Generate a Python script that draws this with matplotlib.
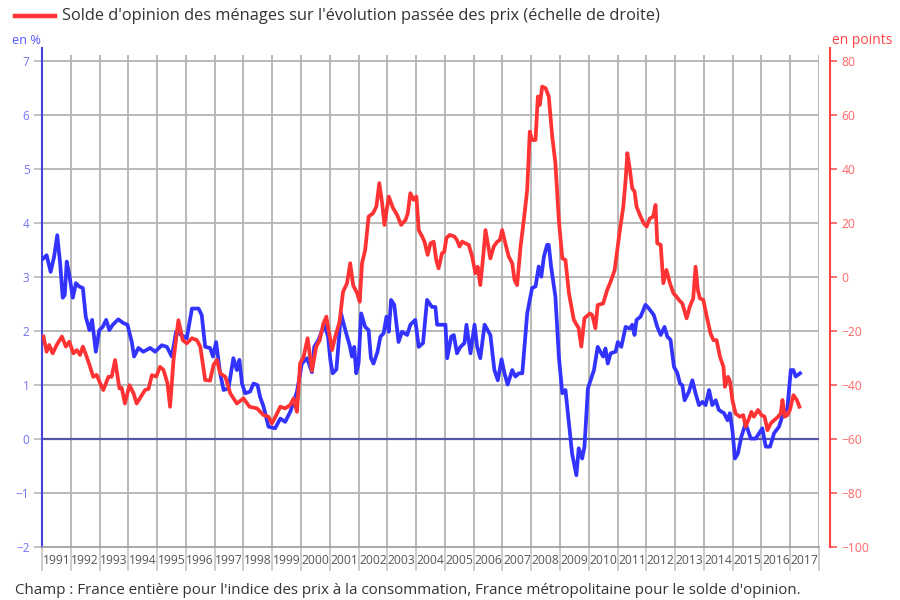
import matplotlib
matplotlib.use("Agg")
import matplotlib.pyplot as plt
from matplotlib.lines import Line2D

plt.rcParams["font.family"] = ["Open Sans", "DejaVu Sans"]

# Inflation (left axis, en %), decimal years
cpi_dates = [
    1991.05, 1991.16, 1991.30, 1991.42, 1991.53, 1991.63, 1991.72, 1991.79, 1991.86, 1991.95,
    1992.07, 1992.18, 1992.29, 1992.42, 1992.52, 1992.65, 1992.74, 1992.87, 1992.99,
    1993.11, 1993.23, 1993.34, 1993.46, 1993.65, 1993.83, 1993.97,
    1994.12, 1994.20, 1994.35, 1994.52, 1994.76, 1994.93,
    1995.16, 1995.34, 1995.51, 1995.66, 1995.85,
    1996.03, 1996.21, 1996.44, 1996.55, 1996.67, 1996.84, 1996.94,
    1997.05, 1997.19, 1997.31, 1997.48, 1997.65, 1997.77, 1997.86, 1997.95,
    1998.06, 1998.23, 1998.35, 1998.49, 1998.58, 1998.70, 1998.87,
    1999.10, 1999.28, 1999.45, 1999.63, 1999.86,
    2000.03, 2000.21, 2000.38, 2000.46, 2000.61, 2000.81, 2000.94,
    2001.02, 2001.10, 2001.23, 2001.39, 2001.54, 2001.69, 2001.77, 2001.85, 2001.92,
    2002.00, 2002.09, 2002.23, 2002.35, 2002.43, 2002.52, 2002.66, 2002.76, 2002.87, 2002.97,
    2003.05, 2003.13, 2003.24, 2003.39, 2003.51, 2003.69, 2003.80, 2003.97,
    2004.09, 2004.24, 2004.38, 2004.55, 2004.67, 2004.73,
    2005.02, 2005.08, 2005.22, 2005.31, 2005.42, 2005.54, 2005.68, 2005.75, 2005.89,
    2006.03, 2006.12, 2006.23, 2006.38, 2006.58, 2006.72, 2006.84, 2006.97,
    2007.07, 2007.18, 2007.34, 2007.45, 2007.57, 2007.69, 2007.86,
    2008.03, 2008.15, 2008.26, 2008.35, 2008.44, 2008.55, 2008.61, 2008.69, 2008.84, 2008.96,
    2009.08, 2009.19, 2009.31, 2009.42, 2009.57, 2009.65, 2009.77, 2009.85, 2009.97,
    2010.18, 2010.31, 2010.50, 2010.58, 2010.66, 2010.76, 2010.93,
    2011.01, 2011.13, 2011.28, 2011.43, 2011.51, 2011.59, 2011.66, 2011.80, 2011.97,
    2012.09, 2012.26, 2012.38, 2012.50, 2012.63, 2012.73, 2012.84, 2012.96,
    2013.08, 2013.17, 2013.25, 2013.33, 2013.48, 2013.60, 2013.71, 2013.83, 2013.95,
    2014.06, 2014.18, 2014.29, 2014.41, 2014.52, 2014.70, 2014.82, 2014.90, 2014.99,
    2015.08, 2015.18, 2015.30, 2015.45, 2015.63, 2015.80, 2015.92,
    2016.03, 2016.15, 2016.30, 2016.44, 2016.61, 2016.76, 2016.90,
    2017.02, 2017.11, 2017.19, 2017.34,
]
cpi_values = [
    3.35, 3.41, 3.10, 3.38, 3.78, 3.26, 2.62, 2.67, 3.29, 3.04,
    2.62, 2.89, 2.83, 2.80, 2.27, 2.02, 2.21, 1.62, 2.02,
    2.08, 2.21, 2.02, 2.12, 2.22, 2.15, 2.12,
    1.80, 1.53, 1.69, 1.62, 1.69, 1.62,
    1.74, 1.71, 1.53, 1.99, 1.93,
    1.87, 2.42, 2.42, 2.30, 1.71, 1.69, 1.53,
    1.80, 1.22, 0.91, 0.94, 1.50, 1.28, 1.47, 1.03,
    0.85, 0.88, 1.03, 1.00, 0.78, 0.60, 0.23,
    0.20, 0.38, 0.32, 0.51, 0.88,
    1.40, 1.50, 1.24, 1.71, 1.84, 2.12, 1.90,
    1.47, 1.22, 1.29, 2.33, 2.02, 1.74, 1.53, 1.71, 1.22,
    1.40, 2.33, 2.08, 2.02, 1.50, 1.40, 1.62, 1.90, 1.96, 2.27,
    1.99, 2.58, 2.49, 1.80, 1.99, 1.93, 2.12, 2.21,
    1.71, 1.78, 2.58, 2.45, 2.45, 2.12,
    2.12, 1.50, 1.90, 1.93, 1.59, 1.71, 1.78, 2.12, 1.59,
    2.12, 1.71, 1.50, 2.12, 1.93, 1.28, 1.09, 1.48,
    1.22, 1.01, 1.28, 1.16, 1.22, 1.22, 2.33,
    2.80, 2.83, 3.20, 3.01, 3.38, 3.60, 3.60, 3.20, 2.64, 1.53,
    0.85, 0.91, 0.30, -0.27, -0.67, -0.17, -0.36, -0.14, 0.94,
    1.28, 1.71, 1.53, 1.68, 1.40, 1.59, 1.62,
    1.80, 1.71, 2.08, 2.05, 2.12, 1.93, 2.21, 2.27, 2.49,
    2.42, 2.30, 2.08, 1.93, 2.08, 1.90, 1.84, 1.34,
    1.22, 1.03, 1.00, 0.72, 0.88, 1.09, 0.85, 0.63, 0.69,
    0.63, 0.91, 0.63, 0.72, 0.54, 0.48, 0.35, 0.48, 0.17,
    -0.36, -0.27, 0.04, 0.29, 0.01, 0.01, 0.11,
    0.20, -0.14, -0.14, 0.11, 0.23, 0.48, 0.57,
    1.28, 1.28, 1.16, 1.22,
]

# Households' opinion balance (right axis, en points)
opinion_dates = [
    1991.05, 1991.16, 1991.25, 1991.37, 1991.51, 1991.69, 1991.83, 1991.95,
    1992.09, 1992.21, 1992.32, 1992.42, 1992.53, 1992.65, 1992.78, 1992.90,
    1993.02, 1993.13, 1993.31, 1993.42, 1993.54, 1993.69, 1993.77, 1993.88,
    1994.04, 1994.18, 1994.29, 1994.47, 1994.58, 1994.70, 1994.82, 1994.97,
    1995.10, 1995.22, 1995.36, 1995.45, 1995.57, 1995.74, 1995.89,
    1996.03, 1996.21, 1996.38, 1996.50, 1996.67, 1996.84, 1996.96,
    1997.08, 1997.19, 1997.37, 1997.54, 1997.77,
    1998.00, 1998.21, 1998.47, 1998.70, 1998.87, 1998.99,
    1999.14, 1999.28, 1999.45, 1999.63, 1999.74, 1999.86, 1999.97,
    2000.09, 2000.23, 2000.38, 2000.53, 2000.65, 2000.78, 2000.88,
    2001.08, 2001.19, 2001.34, 2001.46, 2001.60, 2001.71, 2001.81, 2001.95,
    2002.04, 2002.12, 2002.23, 2002.35, 2002.50, 2002.62, 2002.72, 2002.82, 2002.90,
    2003.05, 2003.20, 2003.34, 2003.48, 2003.63, 2003.71, 2003.80, 2003.91,
    2004.01, 2004.09, 2004.21, 2004.29, 2004.40, 2004.50, 2004.61, 2004.70, 2004.78, 2004.90, 2004.98,
    2005.05, 2005.17, 2005.33, 2005.42, 2005.51, 2005.60, 2005.71, 2005.83, 2005.95,
    2006.06, 2006.14, 2006.23, 2006.33, 2006.41, 2006.58, 2006.70, 2006.82, 2006.91, 2006.99,
    2007.10, 2007.22, 2007.34, 2007.42, 2007.51, 2007.63, 2007.77, 2007.86, 2007.95,
    2008.03, 2008.15, 2008.23, 2008.30, 2008.38, 2008.50, 2008.61, 2008.73, 2008.84, 2008.96,
    2009.08, 2009.19, 2009.31, 2009.48, 2009.65, 2009.74, 2009.85,
    2010.04, 2010.12, 2010.23, 2010.31, 2010.50, 2010.64, 2010.76, 2010.90, 2010.99,
    2011.08, 2011.20, 2011.28, 2011.34, 2011.43, 2011.51, 2011.59, 2011.66, 2011.80, 2011.91,
    2012.01, 2012.12, 2012.24, 2012.32, 2012.38, 2012.50, 2012.59, 2012.70, 2012.82, 2012.94,
    2013.05, 2013.13, 2013.25, 2013.40, 2013.51, 2013.63, 2013.71, 2013.79, 2013.86, 2013.98,
    2014.10, 2014.23, 2014.33, 2014.44, 2014.56, 2014.68, 2014.73, 2014.84, 2014.91, 2014.99,
    2015.10, 2015.25, 2015.37, 2015.45, 2015.57, 2015.65, 2015.74, 2015.88,
    2016.00, 2016.11, 2016.21, 2016.32, 2016.44, 2016.58, 2016.67, 2016.73, 2016.81, 2016.90, 2016.99,
    2017.11, 2017.23, 2017.32,
]
opinion_values = [
    -22.0, -27.6, -25.1, -28.2, -25.1, -22.0, -25.7, -23.9,
    -28.2, -27.0, -28.8, -25.7, -28.8, -32.5, -36.9, -36.2,
    -39.3, -41.8, -36.9, -36.9, -30.7, -41.2, -41.0, -46.8,
    -40.0, -43.0, -46.8, -43.7, -41.8, -41.4, -36.3, -36.8,
    -33.2, -34.3, -39.3, -48.0, -30.7, -15.9, -23.3,
    -24.5, -22.6, -23.3, -25.7, -38.1, -38.3, -32.5,
    -30.7, -35.6, -36.9, -43.0, -46.8,
    -44.9, -48.0, -48.6, -51.1, -51.7, -54.2,
    -51.1, -48.0, -48.6, -47.3, -44.9, -49.9, -31.9,
    -29.5, -22.6, -34.7, -25.7, -23.3, -17.1, -14.6,
    -27.0, -22.0, -16.5, -5.4, -2.2, 5.2, -2.9, -5.9,
    -9.1, 5.2, 10.1, 22.5, 23.7, 26.2, 34.9, 27.4, 19.4,
    29.9, 25.6, 23.1, 19.4, 21.2, 23.7, 31.2, 28.7,
    29.9, 17.5, 15.1, 13.2, 8.3, 12.6, 13.2, 6.4, 3.3, 8.9, 9.5,
    14.5, 15.7, 15.1, 13.8, 11.4, 13.2, 12.6, 12.0, 7.6,
    1.5, 3.9, -2.9, 7.6, 17.5, 7.0, 11.4, 13.2, 13.8, 17.5,
    12.6, 7.6, 5.2, -1.0, -2.9, 11.4, 23.7, 32.4, 54.0,
    50.9, 50.9, 67.0, 63.9, 70.7, 70.1, 67.0, 52.2, 42.3, 21.2,
    7.0, 6.4, -5.9, -15.8, -18.9, -25.7, -15.2,
    -13.4, -14.0, -18.9, -10.3, -9.7, -4.7, -1.6, 2.7, 10.1,
    17.5, 26.2, 36.1, 46.0, 39.8, 33.0, 31.8, 26.2, 22.5, 20.0,
    18.8, 21.8, 22.5, 26.8, 12.6, 12.0, -2.2, 2.7, -2.2, -5.9,
    -7.2, -8.4, -9.7, -15.2, -10.9, -7.8, 3.9, -4.7, -7.8, -8.4,
    -14.6, -20.8, -23.3, -23.3, -29.5, -33.2, -40.6, -36.9, -38.7, -45.5,
    -50.5, -51.7, -51.1, -55.4, -52.3, -49.9, -51.7, -49.2,
    -51.1, -51.7, -56.7, -54.2, -53.0, -51.7, -50.5, -45.5, -51.7, -51.1, -49.2,
    -43.7, -45.5, -48.0,
]

years = list(range(1991, 2018))
left_ticks = list(range(-2, 8))
right_ticks = list(range(-100, 81, 20))

legend_text = "Solde d'opinion des ménages sur l'évolution passée des prix (échelle de droite)"
footer_text = ("Champ : France entière pour l'indice des prix à la consommation, "
               "France métropolitaine pour le solde d'opinion.")

BLUE = "#3333ff"
RED = "#ff3333"
GRID = "#b3b3b3"

fig = plt.figure(figsize=(9, 6), dpi=100)
ax = fig.add_axes([42 / 900, 1 - 547 / 600, 777 / 900, 499 / 600])

ax.set_xlim(1991, 2018)
ax.set_ylim(-2, 7.25)

# grid
for v in left_ticks[1:]:
    if v != 0:
        ax.axhline(v, color=GRID, lw=1.3, zorder=1)
ax.vlines(years[1:] + [2018], -2, 7.12, color=GRID, lw=1.3, zorder=1)
ax.axhline(0, color="#5555aa", lw=1.6, zorder=2)

ax.plot(cpi_dates, cpi_values, color=BLUE, lw=2.7, zorder=3, solid_joinstyle="round")

# spines
for side in ["top", "right"]:
    ax.spines[side].set_visible(False)
ax.spines["left"].set_color("#4444dd")
ax.spines["left"].set_linewidth(1.5)
ax.spines["bottom"].set_color("#999999")
ax.spines["bottom"].set_linewidth(1.2)

ax.set_yticks(left_ticks)
ax.tick_params(axis="y", length=6, width=1.1, color=GRID, labelcolor="#7373f5",
               labelsize=8.5, pad=3)

# x axis: separators at year boundaries, labels in the middle of each cell
ax.set_xticks(years + [2018])
ax.set_xticklabels([])
ax.set_xticks([y + 0.5 for y in years], minor=True)
ax.set_xticklabels([str(y) for y in years], minor=True)
ax.tick_params(axis="x", which="major", length=17, width=1.3, color="#c8c8c8")
ax.tick_params(axis="x", which="minor", length=0, pad=5, labelsize=8.7, labelcolor="#555555")

# right axis
ax2 = ax.twinx()
ax2.set_ylim(-100, 85)
ax2.plot(opinion_dates, opinion_values, color=RED, lw=2.7, zorder=3, solid_joinstyle="round")
for side in ["top", "left", "bottom"]:
    ax2.spines[side].set_visible(False)
ax2.spines["right"].set_position(("outward", 8))
ax2.spines["right"].set_color("#ff4444")
ax2.spines["right"].set_linewidth(1.5)
ax2.spines["right"].set_bounds(-100, 85)
ax2.set_yticks(right_ticks)
ax2.tick_params(axis="y", length=5, width=1.1, color="#ff4444", labelcolor="#ff6666",
                labelsize=8.7, pad=3)

# axis units
fig.text(12 / 900, 1 - 40 / 600, "en %", color="#5555ff", fontsize=9.2, va="center")
fig.text(892 / 900, 1 - 40 / 600, "en points", color="#ff4444", fontsize=10, va="center",
         ha="right")

# legend entry
fig.add_artist(Line2D([15 / 900, 55 / 900], [1 - 16 / 600, 1 - 16 / 600],
                      color=RED, lw=3.2, transform=fig.transFigure))
fig.text(62 / 900, 1 - 16 / 600, legend_text, color="#333333", fontsize=11.8, va="center")

fig.text(15 / 900, 1 - 590 / 600, footer_text, color="#333333", fontsize=10.9, va="center")

fig.savefig("out.png", dpi=100)
